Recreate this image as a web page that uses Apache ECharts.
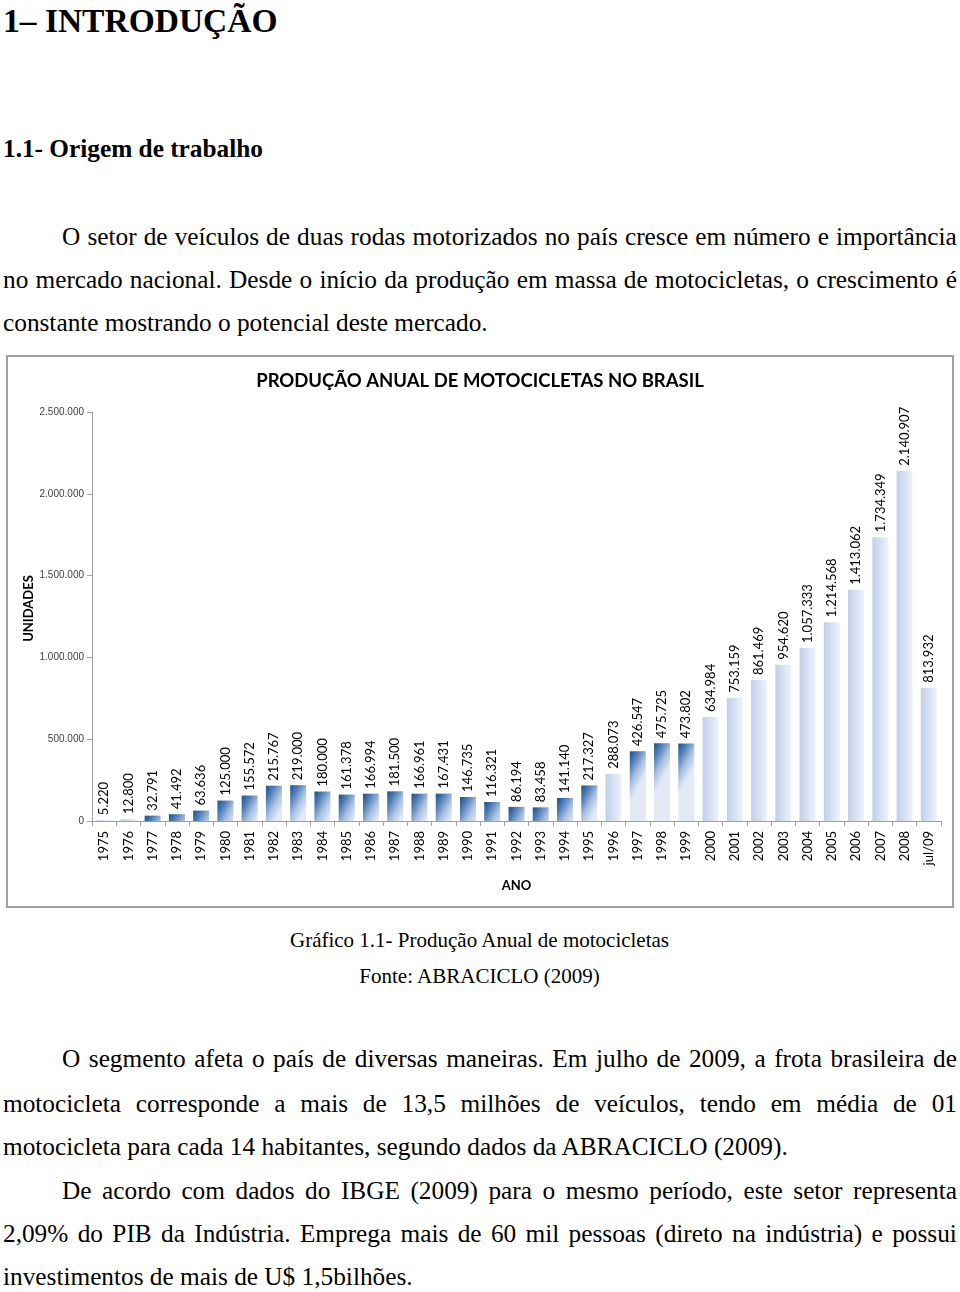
<!DOCTYPE html>
<html><head><meta charset="utf-8">
<script src="https://cdn.jsdelivr.net/npm/echarts@6/dist/echarts.min.js"></script>
<style>
html,body{margin:0;padding:0;background:#fff;}
#page{position:relative;width:960px;height:1292px;overflow:hidden;font-family:"Liberation Serif","Times New Roman",serif;color:#000;}
.t{position:absolute;white-space:nowrap;}
.b{font-size:25.3px;line-height:44px;}
.j{position:absolute;display:flex;justify-content:space-between;white-space:nowrap;font-size:25.3px;line-height:44px;}
.c{position:absolute;left:0;width:959px;text-align:center;font-size:21px;line-height:36px;white-space:nowrap;}
#chart{position:absolute;left:0;top:350px;width:960px;height:570px;}
</style></head><body>
<div id="page">
<div class="t" style="left:3px;top:1px;font-size:33.5px;line-height:40px;font-weight:bold;">1– INTRODUÇÃO</div>
<div class="t b" style="left:3px;top:126px;font-weight:bold;">1.1- Origem de trabalho</div>

<div class="j" style="left:62px;width:895px;top:214px;">O setor de veículos de duas rodas motorizados no país cresce em número e importância</div>
<div class="j" style="left:3px;width:954px;top:257px;">no mercado nacional. Desde o início da produção em massa de motocicletas, o crescimento é</div>
<div class="t b" style="left:3px;top:300px;">constante mostrando o potencial deste mercado.</div>

<div id="chart"></div>

<div class="c" style="top:922px;">Gráfico 1.1- Produção Anual de motocicletas</div>
<div class="c" style="top:958px;">Fonte: ABRACICLO (2009)</div>

<div class="j" style="left:62px;width:895px;top:1036px;">O segmento afeta o país de diversas maneiras. Em julho de 2009, a frota brasileira de</div>
<div class="j" style="left:3px;width:954px;top:1081px;">motocicleta corresponde a mais de 13,5 milhões de veículos, tendo em média de 01</div>
<div class="t b" style="left:3px;top:1124px;">motocicleta para cada 14 habitantes, segundo dados da ABRACICLO (2009).</div>
<div class="j" style="left:62px;width:895px;top:1168px;">De acordo com dados do IBGE (2009) para o mesmo período, este setor representa</div>
<div class="j" style="left:3px;width:954px;top:1211px;">2,09% do PIB da Indústria. Emprega mais de 60 mil pessoas (direto na indústria) e possui</div>
<div class="t b" style="left:3px;top:1254px;">investimentos de mais de U$ 1,5bilhões.</div>
</div>

<script>
// ---- data ----
const years = ['1975','1976','1977','1978','1979','1980','1981','1982','1983','1984','1985','1986','1987','1988','1989','1990','1991','1992','1993','1994','1995','1996','1997','1998','1999','2000','2001','2002','2003','2004','2005','2006','2007','2008','jul/09'];
const production = [5220,12800,32791,41492,63636,125000,155572,215767,219000,180000,161378,166994,181500,166961,167431,146735,116321,86194,83458,141140,217327,288073,426547,475725,473802,634984,753159,861469,954620,1057333,1214568,1413062,1734349,2140907,813932];
const darkYears = ['1977','1978','1979','1980','1981','1982','1983','1984','1985','1986','1987','1988','1989','1990','1991','1992','1993','1994','1995','1997','1998','1999'];
const chartTitle = 'PRODUÇÃO ANUAL DE MOTOCICLETAS NO BRASIL';
const xName = 'ANO';
const yName = 'UNIDADES';

// justify lines: split words into flex items
document.querySelectorAll('.j').forEach(el => {
  const words = el.textContent.trim().split(/\s+/);
  el.textContent = '';
  words.forEach(w => { const s = document.createElement('span'); s.textContent = w; el.appendChild(s); });
});

const fmt = v => String(v).replace(/\B(?=(\d{3})+(?!\d))/g, '.');
const BAR_W = 16;
const darkStops = [
  {offset: 0, color: '#17528f'},
  {offset: 0.3, color: '#4f7db6'},
  {offset: 0.65, color: '#a9c0e0'},
  {offset: 1, color: '#e3eaf6'}
];
const lightGrad = new echarts.graphic.LinearGradient(0, 0, 1, 0, [
  {offset: 0, color: '#c0cfea'},
  {offset: 1, color: '#eef3fa'}
]);

const chart = echarts.init(document.getElementById('chart'), null, {renderer: 'canvas'});
const baseOption = {
  animation: false,
  graphic: [{
    type: 'rect', silent: true, z: -10,
    shape: {x: 7, y: 6, width: 946, height: 551},
    style: {fill: '#fff', stroke: '#a0a0a0', lineWidth: 2}
  }],
  title: {
    text: chartTitle, left: 'center', top: 15,
    textStyle: {fontFamily: 'Lato', fontWeight: 'bold', fontSize: 18.5, lineHeight: 22, color: '#000'}
  },
  grid: {left: 92, right: 19, top: 62, bottom: 99, containLabel: false},
  xAxis: {
    type: 'category', data: years,
    axisLine: {lineStyle: {color: '#a0a0a0', width: 1}},
    axisTick: {show: true, length: 5, lineStyle: {color: '#a0a0a0'}},
    axisLabel: {rotate: 90, interval: 0, margin: 10, fontFamily: 'Lato', fontSize: 13, color: '#000'},
    name: xName, nameLocation: 'middle', nameGap: 58, nameMoveOverlap: false,
    nameTextStyle: {fontFamily: 'Lato', fontWeight: 'bold', fontSize: 13, color: '#000'}
  },
  yAxis: {
    type: 'value', min: 0, max: 2500000, interval: 500000,
    axisLine: {show: true, lineStyle: {color: '#a0a0a0', width: 1}},
    axisTick: {show: true, length: 5, lineStyle: {color: '#a0a0a0'}},
    splitLine: {show: false},
    axisLabel: {formatter: fmt, margin: 8, fontFamily: 'Liberation Sans', fontSize: 10, color: '#404040'},
    name: yName, nameLocation: 'middle', nameGap: 57, nameRotate: 90, nameMoveOverlap: false,
    nameTextStyle: {fontFamily: 'Lato', fontWeight: 'bold', fontSize: 13, color: '#000', padding: [0, 0, 0, 16]}
  },
  series: [{
    type: 'bar', barWidth: BAR_W,
    data: production.map(v => ({value: v, itemStyle: {color: lightGrad}})),
    label: {
      show: true, position: 'top', distance: 5, rotate: 90, align: 'left', verticalAlign: 'middle',
      formatter: p => fmt(p.value), fontFamily: 'Lato', fontSize: 13, color: '#000'
    }
  }]
};
chart.setOption(baseOption);

// dark bars: diagonal gradient with a fixed pixel direction from the top-left corner
const zeroY = chart.convertToPixel({gridIndex: 0}, [0, 0])[1];
const styled = production.map((v, i) => {
  if (!darkYears.includes(years[i])) return {value: v, itemStyle: {color: lightGrad}};
  const topY = chart.convertToPixel({gridIndex: 0}, [i, v])[1];
  const h = Math.max(1, zeroY - topY);
  const px = 22, py = 12; // gradient end point in pixels from top-left
  return {value: v, itemStyle: {color: new echarts.graphic.LinearGradient(0, 0, px / BAR_W, py / h, darkStops)}};
});
chart.setOption({series: [{data: styled}]});
</script>
</body></html>
